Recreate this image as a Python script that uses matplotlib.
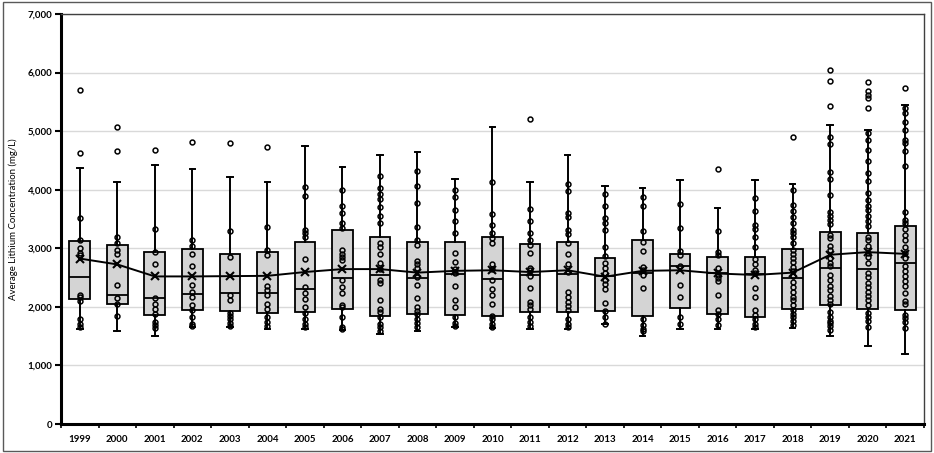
import matplotlib
matplotlib.use("Agg")
import matplotlib.pyplot as plt
from matplotlib.patches import Rectangle
from matplotlib.ticker import FuncFormatter, MultipleLocator

plt.rcParams['font.family'] = ['Lato', 'DejaVu Sans']

years = [str(y) for y in range(1999, 2022)]

# box statistics (mg/L)
q1 = [2140, 2050, 1865, 1945, 1930, 1900, 1915, 1960, 1840, 1875, 1865, 1845,
      1905, 1910, 1930, 1840, 1985, 1875, 1830, 1960, 2025, 1965, 1950]
med = [2515, 2205, 2150, 2215, 2235, 2240, 2300, 2495, 2545, 2490, 2560, 2480,
       2545, 2560, 2530, 2570, 2700, 2585, 2560, 2500, 2660, 2655, 2745]
q3 = [3130, 3055, 2945, 2980, 2900, 2935, 3115, 3305, 3190, 3105, 3110, 3190,
      3070, 3105, 2830, 3140, 2910, 2855, 2845, 2980, 3275, 3265, 3380]
whislo = [1630, 1590, 1500, 1660, 1660, 1630, 1615, 1600, 1545, 1580, 1660, 1645,
          1615, 1630, 1715, 1500, 1630, 1625, 1620, 1645, 1505, 1335, 1195]
whishi = [4365, 4135, 4420, 4350, 4220, 4135, 4745, 4395, 4585, 4650, 4180, 5065,
          4135, 4585, 4065, 4035, 4165, 3690, 4165, 4105, 5100, 5025, 5455]
means = [2825, 2725, 2520, 2520, 2525, 2530, 2595, 2645, 2645, 2585, 2615, 2625,
         2595, 2625, 2515, 2615, 2625, 2570, 2545, 2585, 2890, 2935, 2905]

# individual data points (inner points and outliers)
pts_1999 = [5700, 4620, 3520, 3150, 3010, 2920, 2880, 2210, 2170, 2100, 1800, 1710, 1655]
pts_2000 = [5075, 4665, 3195, 3095, 2970, 2910, 2370, 2160, 2055, 1840]
pts_2001 = [4680, 3335, 2945, 2740, 2150, 2055, 1970, 1870, 1745, 1685, 1645]
pts_2002 = [4815, 3140, 3035, 2900, 2700, 2365, 2250, 2170, 2030, 1955, 1830, 1715, 1680]
pts_2003 = [4790, 3295, 2855, 2210, 2125, 1895, 1840, 1785, 1730, 1680]
pts_2004 = [4725, 3370, 2970, 2885, 2355, 2285, 2200, 2055, 1970, 1830, 1745, 1675]
pts_2005 = [4050, 3890, 3320, 3265, 3195, 2820, 2340, 2230, 2130, 1990, 1895, 1800,
            1715, 1660]
pts_2006 = [3995, 3730, 3595, 3425, 3340, 2970, 2910, 2855, 2800, 2455, 2340, 2230,
            2040, 1990, 1820, 1660, 1630]
pts_2007 = [4240, 4030, 3935, 3835, 3700, 3555, 3425, 3095, 3015, 2910, 2750, 2640,
            2455, 2400, 2115, 1970, 1915, 1830, 1715, 1660, 1590]
pts_2008 = [4320, 4070, 3780, 3370, 3150, 3065, 2785, 2730, 2670, 2515, 2365, 2155,
            2000, 1930, 1875, 1800, 1725, 1660]
pts_2009 = [3995, 3870, 3650, 3465, 3265, 2925, 2760, 2640, 2570, 2355, 2115, 2000,
            1830, 1725, 1670]
pts_2010 = [4135, 3580, 3395, 3265, 3170, 3095, 2730, 2645, 2455, 2310, 2200, 2045,
            1850, 1785, 1715, 1660]
pts_2011 = [5215, 3665, 3465, 3265, 3140, 3050, 2925, 2670, 2625, 2525, 2330, 2085,
            2030, 1960, 1830, 1745, 1670]
pts_2012 = [4095, 3975, 3605, 3540, 3310, 3240, 3095, 2900, 2730, 2600, 2250, 2170,
            2085, 2010, 1945, 1800, 1715, 1660]
pts_2013 = [3935, 3725, 3520, 3425, 3320, 3025, 2865, 2750, 2670, 2570, 2465, 2385,
            2310, 2070, 1930, 1830, 1715]
pts_2014 = [3880, 3725, 3300, 3115, 2955, 2685, 2625, 2540, 2330, 1800, 1685, 1630, 1590]
pts_2015 = [3750, 3340, 2955, 2885, 2700, 2380, 2170, 1830, 1715]
pts_2016 = [4355, 3295, 2935, 2885, 2660, 2540, 2490, 2445, 2200, 1945, 1885, 1795, 1685]
pts_2017 = [3865, 3640, 3400, 3335, 3195, 3025, 2810, 2730, 2625, 2570, 2325, 2170,
            1945, 1855, 1785, 1715, 1660]
pts_2018 = [4895, 3995, 3740, 3640, 3540, 3425, 3320, 3255, 3195, 3085, 2970, 2900,
            2840, 2770, 2685, 2615, 2525, 2425, 2340, 2255, 2170, 2115, 2030, 1955,
            1885, 1820, 1755, 1690]
pts_2019 = [6040, 5850, 5425, 4900, 4785, 4295, 4180, 3915, 3625, 3555, 3485, 3420,
            3230, 3175, 3045, 2975, 2830, 2745, 2690, 2545, 2460, 2360, 2290, 2190,
            2120, 2050, 1905, 1835, 1765, 1720, 1675, 1605]
pts_2020 = [5835, 5680, 5625, 5565, 5395, 4970, 4855, 4685, 4495, 4285, 4145, 3945,
            3830, 3725, 3660, 3545, 3460, 3375, 3200, 3135, 3045, 2915, 2860, 2745,
            2585, 2505, 2405, 2335, 2260, 2190, 2120, 2035, 1890, 1835, 1765, 1650]
pts_2021 = [5730, 5395, 5310, 5150, 5025, 4855, 4800, 4655, 4410, 3620, 3485, 3430,
            3330, 3230, 3145, 3030, 2915, 2830, 2690, 2605, 2520, 2435, 2350, 2245,
            2105, 2050, 1865, 1805, 1750, 1635]
points = [pts_1999, pts_2000, pts_2001, pts_2002, pts_2003, pts_2004, pts_2005,
          pts_2006, pts_2007, pts_2008, pts_2009, pts_2010, pts_2011, pts_2012,
          pts_2013, pts_2014, pts_2015, pts_2016, pts_2017, pts_2018, pts_2019,
          pts_2020, pts_2021]

fig = plt.figure(figsize=(9.34, 4.53), dpi=100)
ax = fig.add_axes([0.0653, 0.064, 0.924, 0.905])

pos = list(range(1, len(years) + 1))
stats = []
for i in range(len(years)):
    stats.append({"q1": q1[i], "med": med[i], "q3": q3[i],
                  "whislo": whislo[i], "whishi": whishi[i], "fliers": []})

ax.bxp(stats, positions=pos, widths=0.55, capwidths=0.15, patch_artist=True,
       showfliers=False,
       boxprops=dict(facecolor="#d4d4d4", edgecolor="black", linewidth=1.3),
       medianprops=dict(color="black", linewidth=1.3),
       whiskerprops=dict(color="black", linewidth=1.4),
       capprops=dict(color="black", linewidth=1.4),
       zorder=2)

for i, p in enumerate(points):
    ax.plot([pos[i]] * len(p), p, linestyle="none", marker="o", markersize=3.5,
            markerfacecolor="none", markeredgecolor="black", markeredgewidth=1.1,
            zorder=4)

ax.plot(pos, means, color="black", linewidth=1.4, marker="x", markersize=6,
        markeredgewidth=1.5, zorder=5)

ax.set_xlim(0.5, len(years) + 0.5)
ax.set_ylim(0, 7000)
ax.yaxis.set_major_locator(MultipleLocator(1000))
ax.yaxis.set_major_formatter(FuncFormatter(lambda v, _: f"{int(v):,}"))
ax.grid(axis="y", color="#d9d9d9", linewidth=1)
ax.set_axisbelow(True)

ax.set_xticks(pos)
ax.set_xticklabels(years, fontsize=7, fontweight="bold")
ax.set_xticks([x + 0.5 for x in range(len(years) + 1)], minor=True)
ax.tick_params(axis="x", which="major", length=0, pad=8)
ax.tick_params(axis="x", which="minor", length=3, width=1.2, direction="out")
ax.tick_params(axis="y", length=4, width=1.5, direction="out", pad=2)
for lab in ax.get_yticklabels():
    lab.set_fontsize(7)
    lab.set_fontweight("bold")

ax.set_ylabel("Average Lithium Concentration (mg/L)", fontsize=6.9, labelpad=7)

ax.spines["left"].set_linewidth(2.2)
ax.spines["bottom"].set_linewidth(2.2)
ax.spines["top"].set_linewidth(1)
ax.spines["right"].set_linewidth(1)
ax.spines["top"].set_color("#404040")
ax.spines["right"].set_color("#404040")

fig.patches.append(Rectangle((0.003, 0.004), 0.994, 0.992, transform=fig.transFigure,
                             fill=False, edgecolor="#595959", linewidth=1))

fig.savefig("out.png", dpi=100)
